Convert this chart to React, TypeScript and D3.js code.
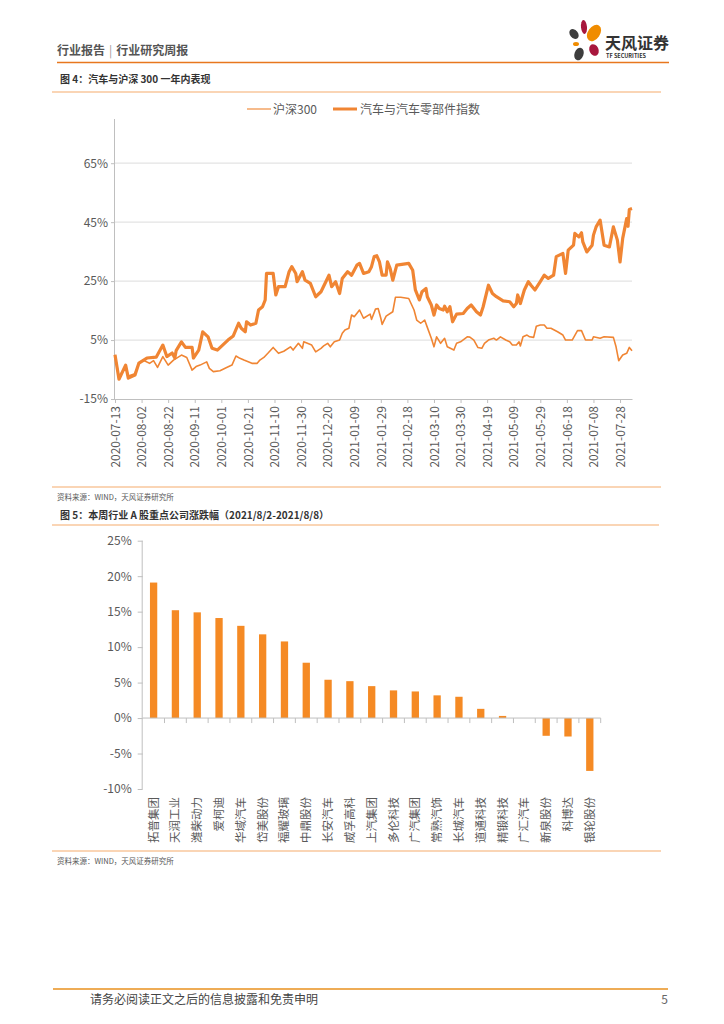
import React, { useRef, useEffect } from 'react';
import * as d3 from 'd3';

// 图4 数据：累计涨跌幅（%）
const hs300: [string, number][] = [
  ['2020-07-13', 0], ['2020-07-16', -7.6], ['2020-07-21', -3.8], ['2020-07-23', -7.2], ['2020-07-28', -6.4],
  ['2020-07-31', -3], ['2020-08-03', -1.8], ['2020-08-08', -2.9], ['2020-08-11', -2], ['2020-08-14', -4.3],
  ['2020-08-18', -0.6], ['2020-08-22', -3.5], ['2020-08-26', -1.8], ['2020-09-01', -0.1], ['2020-09-05', -0.9],
  ['2020-09-09', -5.2], ['2020-09-12', -4], ['2020-09-15', -3.5], ['2020-09-20', -2.4], ['2020-09-22', -4.6],
  ['2020-09-25', -5.7], ['2020-09-30', -5.4], ['2020-10-05', -4.3], ['2020-10-09', -3.5], ['2020-10-12', -0.4],
  ['2020-10-15', -1.2], ['2020-10-18', -1.8], ['2020-10-24', -2.9], ['2020-10-28', -2.9], ['2020-10-30', -1.8],
  ['2020-11-02', -0.9], ['2020-11-05', 0.5], ['2020-11-09', 2.5], ['2020-11-13', 0.5], ['2020-11-17', 1.2],
  ['2020-11-22', 2.7], ['2020-11-24', 1.6], ['2020-11-28', 3.9], ['2020-12-01', 2.2], ['2020-12-02', 4.4],
  ['2020-12-08', 3.3], ['2020-12-11', 1], ['2020-12-15', 2.2], ['2020-12-17', 3], ['2020-12-20', 3.9],
  ['2020-12-22', 2.7], ['2020-12-25', 4.4], ['2020-12-29', 5], ['2020-12-31', 7.3], ['2021-01-02', 8.4],
  ['2021-01-05', 9], ['2021-01-07', 13.5], ['2021-01-09', 12.9], ['2021-01-13', 15.2], ['2021-01-16', 12.4],
  ['2021-01-21', 13.8], ['2021-01-22', 12], ['2021-01-25', 15.5], ['2021-01-27', 15.7], ['2021-01-29', 12.4],
  ['2021-01-30', 10.3], ['2021-02-02', 13.1], ['2021-02-07', 14.6], ['2021-02-09', 19.5], ['2021-02-13', 19.5],
  ['2021-02-19', 19.1], ['2021-02-23', 15.2], ['2021-02-25', 11.8], ['2021-02-28', 10.7], ['2021-03-03', 11.8],
  ['2021-03-05', 9.3], ['2021-03-08', 5.6], ['2021-03-10', 2.7], ['2021-03-12', 6.1], ['2021-03-15', 3.9],
  ['2021-03-18', 5.6], ['2021-03-20', 2.7], ['2021-03-25', 1.6], ['2021-03-27', 3.9], ['2021-03-30', 4.4],
  ['2021-04-04', 6.1], ['2021-04-06', 6], ['2021-04-09', 5], ['2021-04-12', 2.5], ['2021-04-15', 2.2],
  ['2021-04-17', 3.9], ['2021-04-20', 5], ['2021-04-24', 5.6], ['2021-04-26', 5], ['2021-04-29', 6.1],
  ['2021-05-03', 5], ['2021-05-06', 4.4], ['2021-05-08', 3.3], ['2021-05-11', 3.3], ['2021-05-13', 4.4],
  ['2021-05-14', 3], ['2021-05-16', 6.1], ['2021-05-19', 6.7], ['2021-05-21', 6.1], ['2021-05-24', 5.9],
  ['2021-05-26', 9.7], ['2021-05-29', 10.1], ['2021-06-01', 10.1], ['2021-06-03', 9], ['2021-06-06', 9],
  ['2021-06-11', 7.8], ['2021-06-15', 6.7], ['2021-06-17', 5], ['2021-06-22', 5], ['2021-06-26', 8.2],
  ['2021-06-29', 8.2], ['2021-07-02', 5], ['2021-07-07', 5], ['2021-07-08', 6.1], ['2021-07-13', 5.6],
  ['2021-07-16', 6.1], ['2021-07-23', 5.9], ['2021-07-25', 2.7], ['2021-07-27', -2], ['2021-07-30', -0.1],
  ['2021-08-02', 0.5], ['2021-08-04', 2.5], ['2021-08-06', 1.4],
];

const autoIndex: [string, number][] = [
  ['2020-07-13', 0], ['2020-07-16', -8.3], ['2020-07-21', -3.5], ['2020-07-23', -7.9], ['2020-07-28', -6.9],
  ['2020-07-31', -2.8], ['2020-08-06', -1.1], ['2020-08-13', -0.8], ['2020-08-18', 3.3], ['2020-08-21', -0.6],
  ['2020-08-25', 0.6], ['2020-08-27', -1.1], ['2020-08-28', 1.4], ['2020-09-01', 4.4], ['2020-09-04', 2.5],
  ['2020-09-09', 2.5], ['2020-09-10', -1.1], ['2020-09-14', 1.6], ['2020-09-17', 7.8], ['2020-09-21', 6.1],
  ['2020-09-24', 2.2], ['2020-09-28', 1.6], ['2020-10-02', 3.3], ['2020-10-06', 5], ['2020-10-10', 6.4],
  ['2020-10-14', 10.7], ['2020-10-16', 9], ['2020-10-19', 7.8], ['2020-10-20', 11.2], ['2020-10-23', 10.1],
  ['2020-10-27', 10.7], ['2020-10-29', 15.2], ['2020-11-01', 16.3], ['2020-11-03', 18.6], ['2020-11-04', 27.6],
  ['2020-11-09', 27.6], ['2020-11-11', 20.3], ['2020-11-13', 23.1], ['2020-11-18', 23.1], ['2020-11-21', 28.2],
  ['2020-11-23', 29.9], ['2020-11-26', 27.6], ['2020-11-27', 24.8], ['2020-12-01', 28.2], ['2020-12-03', 25.3],
  ['2020-12-07', 24.2], ['2020-12-11', 19.7], ['2020-12-15', 21.4], ['2020-12-21', 27], ['2020-12-23', 23.1],
  ['2020-12-26', 24.8], ['2020-12-29', 20.8], ['2020-12-31', 25.9], ['2021-01-04', 28.2], ['2021-01-07', 27],
  ['2021-01-11', 30.4], ['2021-01-13', 31], ['2021-01-16', 27.6], ['2021-01-20', 28.2], ['2021-01-22', 29.9],
  ['2021-01-24', 33.3], ['2021-01-26', 33.6], ['2021-01-28', 31.5], ['2021-01-30', 27], ['2021-02-02', 27],
  ['2021-02-03', 31.5], ['2021-02-05', 29.3], ['2021-02-07', 25.3], ['2021-02-10', 30.4], ['2021-02-19', 31],
  ['2021-02-22', 28.7], ['2021-02-24', 22], ['2021-02-27', 18.6], ['2021-03-01', 21.4], ['2021-03-04', 22.5],
  ['2021-03-05', 19.7], ['2021-03-08', 16.9], ['2021-03-10', 13.5], ['2021-03-12', 16.9], ['2021-03-14', 15.7],
  ['2021-03-17', 15.2], ['2021-03-18', 16.5], ['2021-03-20', 14.6], ['2021-03-22', 16.3], ['2021-03-24', 11.2],
  ['2021-03-27', 13.8], ['2021-04-01', 14], ['2021-04-04', 15.7], ['2021-04-07', 16.9], ['2021-04-11', 14.6],
  ['2021-04-14', 13.5], ['2021-04-16', 16.3], ['2021-04-20', 23.6], ['2021-04-23', 20.8], ['2021-04-26', 19.7],
  ['2021-05-01', 18.3], ['2021-05-06', 18], ['2021-05-09', 16.3], ['2021-05-11', 17.4], ['2021-05-12', 20.3],
  ['2021-05-14', 17.4], ['2021-05-17', 22], ['2021-05-20', 24.8], ['2021-05-22', 23.6], ['2021-05-25', 22],
  ['2021-05-29', 24.8], ['2021-06-01', 27], ['2021-06-04', 25.9], ['2021-06-08', 27], ['2021-06-10', 33.3],
  ['2021-06-15', 34.4], ['2021-06-17', 27.6], ['2021-06-19', 35.5], ['2021-06-23', 37.2], ['2021-06-24', 41.2],
  ['2021-06-27', 40], ['2021-06-29', 41.4], ['2021-06-30', 38.3], ['2021-07-03', 34.9], ['2021-07-07', 37.2],
  ['2021-07-08', 40.6], ['2021-07-10', 43.4], ['2021-07-13', 45.7], ['2021-07-16', 37.2], ['2021-07-20', 36.6],
  ['2021-07-23', 43.4], ['2021-07-26', 38.9], ['2021-07-28', 31.5], ['2021-07-30', 39.5], ['2021-08-02', 46.2],
  ['2021-08-03', 43.6], ['2021-08-04', 49.3], ['2021-08-06', 49.6],
];

const lineTicks = [-15, 5, 25, 45, 65];

// 图5 数据：本周涨跌幅（%）
const companies = [
  '拓普集团', '天润工业', '潍柴动力', '爱柯迪', '华域汽车', '岱美股份', '福耀玻璃', '中鼎股份', '长安汽车', '威孚高科', '上汽集团',
  '多伦科技', '广汽集团', '常熟汽饰', '长城汽车', '道通科技', '精锻科技', '广汇汽车', '新泉股份', '科博达', '银轮股份',
];
const weeklyChange = [
  19.1, 15.2, 14.9, 14.1, 13.0, 11.8, 10.8, 7.8, 5.4, 5.2, 4.5,
  3.9, 3.75, 3.2, 3.0, 1.3, 0.3, 0, -2.5, -2.6, -7.45,
];
const barTicks = [-10, -5, 0, 5, 10, 15, 20, 25];

const FONT = "'Noto Sans CJK SC', 'Noto Sans', sans-serif";
const GRAY = '#595959';
const ORANGE = '#F08533';
const LIGHT_ORANGE = '#F9C79C';

const App: React.FC = () => {
  const ref = useRef<SVGSVGElement | null>(null);

  useEffect(() => {
    if (!ref.current) return;
    const svg = d3.select(ref.current);
    svg.selectAll('*').remove();
    svg.attr('font-family', FONT);

    // ---------- page header ----------
    const head = svg.append('text').attr('x', 57).attr('y', 55).attr('font-size', 12).attr('font-weight', 'bold')
      .attr('fill', '#555');
    head.append('tspan').text('行业报告');
    head.append('tspan').attr('font-weight', 'normal').attr('fill', '#999').attr('dx', 4).text('|');
    head.append('tspan').attr('dx', 4).text('行业研究周报');
    svg.append('line').attr('x1', 57).attr('x2', 669).attr('y1', 62.5).attr('y2', 62.5)
      .attr('stroke', '#E8771E').attr('stroke-width', 1.6);

    // logo
    const logo = svg.append('g').attr('transform', 'translate(585,40)');
    const petals: [number, number, number, number, number, string][] = [
      [-1, -13, 3, 7, -5, '#A8173D'],
      [9, -7, 6, 9, 35, '#F08C00'],
      [-11, -6, 4, 5.5, -40, '#3D3D3D'],
      [-9, 4, 3, 2, 0, '#F08C00'],
      [9, 10, 4.5, 6, -25, '#A8173D'],
      [-6, 14, 4.5, 6.5, 20, '#3D3D3D'],
    ];
    petals.forEach(([cx, cy, rx, ry, rot, c]) => {
      logo.append('ellipse').attr('cx', cx).attr('cy', cy).attr('rx', rx).attr('ry', ry)
        .attr('transform', `rotate(${rot},${cx},${cy})`).attr('fill', c);
    });
    svg.append('text').attr('x', 605).attr('y', 49).attr('font-size', 16).attr('font-weight', 'bold')
      .attr('fill', '#333').text('天风证券');
    svg.append('text').attr('x', 606).attr('y', 58).attr('font-size', 5.5).attr('font-weight', 'bold')
      .attr('fill', '#333').text('TF SECURITIES');

    // ---------- figure 4 ----------
    svg.append('text').attr('x', 60).attr('y', 83).attr('font-size', 10).attr('font-weight', 'bold')
      .attr('fill', '#333').text('图 4：汽车与沪深 300 一年内表现');
    svg.append('line').attr('x1', 52).attr('x2', 661).attr('y1', 92).attr('y2', 92)
      .attr('stroke', LIGHT_ORANGE).attr('stroke-width', 1.5);

    // legend
    svg.append('line').attr('x1', 247).attr('x2', 271).attr('y1', 109).attr('y2', 109)
      .attr('stroke', '#F3A566').attr('stroke-width', 1.5);
    svg.append('text').attr('x', 273).attr('y', 113.5).attr('font-size', 12).attr('fill', GRAY).text('沪深300');
    svg.append('line').attr('x1', 333).attr('x2', 357).attr('y1', 109).attr('y2', 109)
      .attr('stroke', ORANGE).attr('stroke-width', 3);
    svg.append('text').attr('x', 360).attr('y', 113.5).attr('font-size', 12).attr('fill', GRAY).text('汽车与汽车零部件指数');

    const parse = d3.timeParse('%Y-%m-%d');
    const start = parse('2020-07-13') as Date;
    const end = parse('2021-08-06') as Date;
    const x = d3.scaleTime().domain([start, end]).range([115, 632]);
    const y = d3.scaleLinear().domain([-15, 80]).range([399, 119]);

    // grid
    svg.append('g').selectAll('line').data(lineTicks.filter(t => t > -15)).enter().append('line')
      .attr('x1', 115).attr('x2', 632).attr('y1', d => y(d)).attr('y2', d => y(d))
      .attr('stroke', '#E3E3E3').attr('stroke-width', 1.2);

    // y axis
    const yAxis = svg.append('g').attr('transform', 'translate(115,0)')
      .call(d3.axisLeft(y).tickValues(lineTicks).tickSize(4).tickFormat(d => `${d}%`));
    yAxis.select('.domain').attr('stroke', '#BFBFBF').attr('d', `M-0.5,${y(80)}V${y(-15)}`);
    yAxis.selectAll('.tick line').attr('stroke', '#BFBFBF');
    yAxis.selectAll('.tick text').attr('fill', GRAY).attr('font-size', 12).attr('font-family', FONT).attr('x', -7);

    // x axis
    const xTicks = d3.timeDay.range(start, end, 20);
    const xAxis = svg.append('g').attr('transform', 'translate(0,399)')
      .call(d3.axisBottom(x).tickValues(xTicks).tickSize(4).tickSizeOuter(0).tickFormat(d => d3.timeFormat('%Y-%m-%d')(d as Date)));
    xAxis.select('.domain').attr('stroke', '#BFBFBF');
    xAxis.selectAll('.tick line').attr('stroke', '#BFBFBF');
    xAxis.selectAll('.tick text').attr('fill', GRAY).attr('font-size', 12).attr('font-family', FONT)
      .attr('transform', 'rotate(-90)').attr('text-anchor', 'end').attr('x', -7).attr('y', 0).attr('dy', '0.35em');

    const line = d3.line<[string, number]>()
      .x(d => x(parse(d[0]) as Date))
      .y(d => y(d[1]));

    svg.append('path').datum(hs300).attr('d', line).attr('fill', 'none')
      .attr('stroke', ORANGE).attr('stroke-width', 1.6).attr('stroke-linejoin', 'round');
    svg.append('path').datum(autoIndex).attr('d', line).attr('fill', 'none')
      .attr('stroke', ORANGE).attr('stroke-width', 3.2).attr('stroke-linejoin', 'round');

    svg.append('line').attr('x1', 52).attr('x2', 661).attr('y1', 487).attr('y2', 487)
      .attr('stroke', LIGHT_ORANGE).attr('stroke-width', 1.5);
    svg.append('text').attr('x', 57).attr('y', 500).attr('font-size', 7.5).attr('fill', GRAY)
      .text('资料来源：WIND，天风证券研究所');

    // ---------- figure 5 ----------
    svg.append('text').attr('x', 60).attr('y', 519).attr('font-size', 10).attr('font-weight', 'bold')
      .attr('fill', '#333').text('图 5：本周行业 A 股重点公司涨跌幅（2021/8/2-2021/8/8）');
    svg.append('line').attr('x1', 52).attr('x2', 659).attr('y1', 525).attr('y2', 525)
      .attr('stroke', LIGHT_ORANGE).attr('stroke-width', 1.5);

    const bx = d3.scaleBand<string>().domain(companies).range([142.7, 600.7])
      .paddingInner(0.665).paddingOuter(0.3325);
    const by = d3.scaleLinear().domain([-10, 25]).range([789, 540.7]);

    const byAxis = svg.append('g').attr('transform', 'translate(142.7,0)')
      .call(d3.axisLeft(by).tickValues(barTicks).tickSize(5).tickFormat(d => `${d}%`));
    byAxis.select('.domain').attr('stroke', '#BFBFBF').attr('d', `M-0.5,${by(25)}V${by(-10)}`);
    byAxis.selectAll('.tick line').attr('stroke', '#BFBFBF');
    byAxis.selectAll('.tick text').attr('fill', GRAY).attr('font-size', 12).attr('font-family', FONT).attr('x', -11);

    svg.append('g').selectAll('rect').data(companies).enter().append('rect')
      .attr('x', d => bx(d) as number)
      .attr('width', bx.bandwidth())
      .attr('y', (d, i) => by(Math.max(0, weeklyChange[i])))
      .attr('height', (d, i) => Math.abs(by(weeklyChange[i]) - by(0)))
      .attr('fill', '#F58A24');

    // category axis at 0%
    const step = bx.step();
    svg.append('line').attr('x1', 142.7).attr('x2', 600.7).attr('y1', by(0)).attr('y2', by(0))
      .attr('stroke', '#BFBFBF').attr('stroke-width', 1);
    svg.append('g').selectAll('line').data(companies).enter().append('line')
      .attr('x1', (d, i) => 142.7 + (i + 1) * step).attr('x2', (d, i) => 142.7 + (i + 1) * step)
      .attr('y1', by(0)).attr('y2', by(0) + 5).attr('stroke', '#BFBFBF');

    // category labels, rotated to read bottom-to-top, aligned at the top
    svg.append('g').selectAll('text').data(companies).enter().append('text')
      .attr('font-size', 11.5).attr('fill', GRAY).attr('text-anchor', 'end')
      .attr('transform', d => `translate(${(bx(d) as number) + bx.bandwidth() / 2},797) rotate(-90)`)
      .attr('dy', '0.35em')
      .text(d => d);

    svg.append('line').attr('x1', 52).attr('x2', 661).attr('y1', 851).attr('y2', 851)
      .attr('stroke', LIGHT_ORANGE).attr('stroke-width', 1.5);
    svg.append('text').attr('x', 57).attr('y', 864).attr('font-size', 7.5).attr('fill', GRAY)
      .text('资料来源：WIND，天风证券研究所');

    // ---------- footer ----------
    svg.append('line').attr('x1', 53).attr('x2', 668).attr('y1', 989).attr('y2', 989)
      .attr('stroke', '#E8901E').attr('stroke-width', 1.6);
    svg.append('text').attr('x', 90).attr('y', 1004).attr('font-size', 12).attr('fill', '#444')
      .text('请务必阅读正文之后的信息披露和免责申明');
    svg.append('text').attr('x', 668).attr('y', 1004).attr('font-size', 12).attr('fill', '#666')
      .attr('text-anchor', 'end').text('5');
  }, []);

  return (
    <div style={{ position: 'absolute', left: 0, top: 0 }}>
      <svg ref={ref} width={724} height={1024} style={{ display: 'block', background: '#fff' }}></svg>
    </div>
  );
};

export default App;
